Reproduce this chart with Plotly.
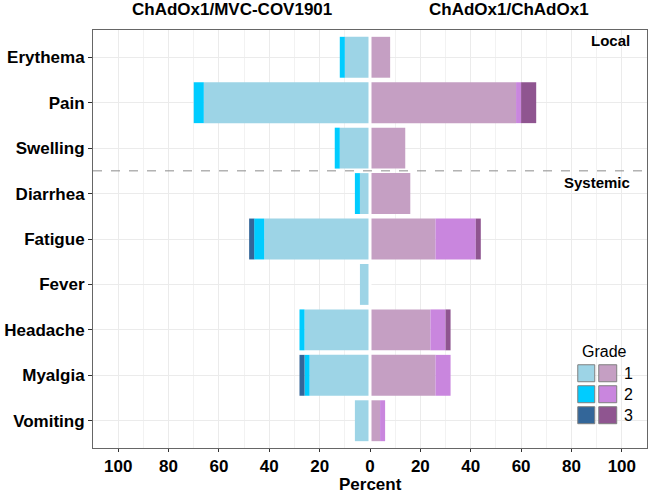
import plotly.graph_objects as go

categories = ["Erythema", "Pain", "Swelling", "Diarrhea", "Fatigue", "Fever", "Headache", "Myalgia", "Vomiting"]
left_g1 = [10, 66, 12, 4, 42, 4, 26, 24, 6]
left_g2 = [2, 4, 2, 2, 4, 0, 2, 2, 0]
left_g3 = [0, 0, 0, 0, 2, 0, 0, 2, 0]
right_g1 = [8, 58, 14, 16, 26, 0, 24, 26, 4]
right_g2 = [0, 2, 0, 0, 16, 0, 6, 6, 2]
right_g3 = [0, 6, 0, 0, 2, 0, 2, 0, 0]
tick_vals = [-100, -80, -60, -40, -20, 0, 20, 40, 60, 80, 100]
tick_text = ["100", "80", "60", "40", "20", "0", "20", "40", "60", "80", "100"]
group_titles = ["ChAdOx1/MVC-COV1901", "ChAdOx1/ChAdOx1"]

left_colors = ["#9dd4e6", "#00ccff", "#336699"]
right_colors = ["#c59fc3", "#c986de", "#8f5590"]
FONT = "Liberation Sans, Arial, sans-serif"

fig = go.Figure()
for vals, col, g in zip([left_g1, left_g2, left_g3], left_colors, ["1", "2", "3"]):
    fig.add_trace(go.Bar(y=categories, x=[-v for v in vals], orientation="h",
                         marker=dict(color=col, line=dict(width=0)), width=0.9,
                         name=g, showlegend=False))
for vals, col, g in zip([right_g1, right_g2, right_g3], right_colors, ["1", "2", "3"]):
    fig.add_trace(go.Bar(y=categories, x=vals, orientation="h",
                         marker=dict(color=col, line=dict(width=0)), width=0.9,
                         name=g, showlegend=False))

fig.update_layout(
    barmode="relative",
    width=650, height=493,
    margin=dict(l=93, r=3, t=30, b=45, autoexpand=False),
    plot_bgcolor="white", paper_bgcolor="white",
    font=dict(family=FONT, color="black"),
    showlegend=False,
)
fig.update_xaxes(range=[-110, 110], tickvals=tick_vals, ticktext=tick_text, automargin=False,
                 tickfont=dict(size=17, weight="bold", color="black"),
                 ticks="outside", ticklen=3, tickcolor="#333333",
                 showgrid=True, gridcolor="#ebebeb", gridwidth=1,
                 minor=dict(dtick=10, tick0=0, showgrid=True, gridcolor="#f2f2f2", gridwidth=1),
                 showline=True, linecolor="#666666", linewidth=1, mirror=True, zeroline=False)
fig.update_yaxes(range=[8.6, -0.6], categoryorder="array", categoryarray=categories, automargin=False,
                 tickfont=dict(size=17, weight="bold", color="black"),
                 ticks="outside", ticklen=4, tickcolor="#333333",
                 showgrid=True, gridcolor="#ebebeb", gridwidth=1,
                 showline=True, linecolor="#666666", linewidth=1, mirror=True, zeroline=False)

# white separator at zero and dashed Local/Systemic divider
fig.add_shape(type="line", xref="x", yref="paper", x0=0, x1=0, y0=0, y1=1,
              line=dict(color="white", width=3), layer="above")
fig.add_shape(type="line", xref="paper", yref="y", x0=0, x1=1, y0=2.5, y1=2.5,
              line=dict(color="#8c8c8c", width=1, dash="dash"), layer="above")

# group titles
fig.add_annotation(x=-55, y=1.05, xref="x", yref="paper", text=group_titles[0], showarrow=False,
                   font=dict(size=17, weight="bold"), yanchor="middle")
fig.add_annotation(x=55, y=1.05, xref="x", yref="paper", text=group_titles[1], showarrow=False,
                   font=dict(size=17, weight="bold"), yanchor="middle")
fig.add_annotation(x=0.5, y=-0.088, xref="paper", yref="paper", text="Percent", showarrow=False,
                   font=dict(size=17, weight="bold"), yanchor="middle")
fig.add_annotation(x=0.973, y=0.975, xref="paper", yref="paper", text="Local", showarrow=False,
                   font=dict(size=15, weight="bold"), xanchor="right", yanchor="middle")
fig.add_annotation(x=0.973, y=0.634, xref="paper", yref="paper", text="Systemic", showarrow=False,
                   font=dict(size=15, weight="bold"), xanchor="right", yanchor="middle")

# legend (drawn manually: two swatch columns share one label)
def px2x(px):
    return (px - 92.7) / 554.6

def py2y(py):
    return (448.3 - py) / 418.3

fig.add_annotation(x=px2x(580), y=py2y(352), xref="paper", yref="paper", text="Grade", showarrow=False,
                   font=dict(size=16), xanchor="left", yanchor="middle")
rows = [(365, 382), (386, 403), (407, 424)]
for i, (y0, y1) in enumerate(rows):
    for (x0, x1), cols in zip([(578, 595), (599, 617)], [left_colors, right_colors]):
        fig.add_shape(type="rect", xref="paper", yref="paper",
                      x0=px2x(x0), x1=px2x(x1), y0=py2y(y1), y1=py2y(y0),
                      fillcolor=cols[i], line=dict(color="#7f7f7f", width=1), layer="above")
    fig.add_annotation(x=px2x(622), y=py2y((y0 + y1) / 2), xref="paper", yref="paper", text=str(i + 1),
                       showarrow=False, font=dict(size=16), xanchor="left", yanchor="middle")

fig.write_html("out.html", config={"displayModeBar": False},
               post_script="document.body.style.margin='0';document.body.style.overflow='hidden';")
